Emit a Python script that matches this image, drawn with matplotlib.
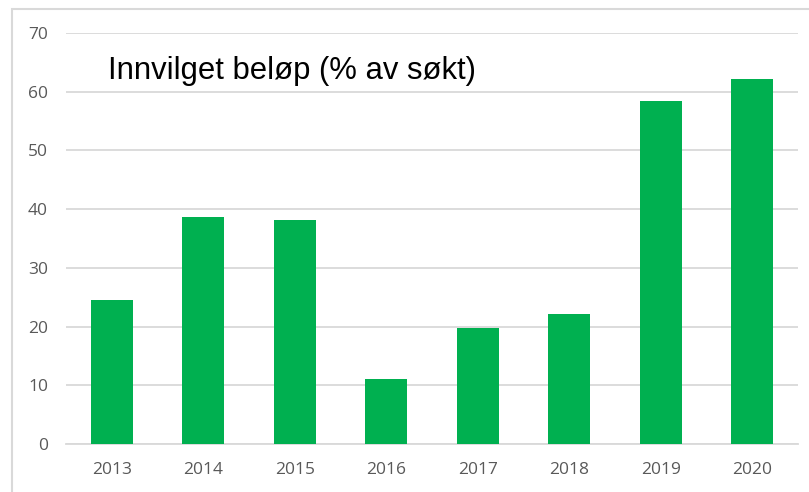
import matplotlib
matplotlib.use("Agg")
import matplotlib.pyplot as plt
from matplotlib.patches import Rectangle

years = ["2013", "2014", "2015", "2016", "2017", "2018", "2019", "2020"]
values = [24.5, 38.7, 38.2, 11.1, 19.8, 22.1, 58.4, 62.2]
yticks = [0, 10, 20, 30, 40, 50, 60, 70]
title = "Innvilget beløp (% av søkt)"

W, H = 809, 492
fig = plt.figure(figsize=(W / 100, H / 100), dpi=100)
fig.patch.set_facecolor("white")

# outer chart border
fig.patches.append(Rectangle((12 / W, -0.05), 1.1, (H - 9) / H + 0.05,
                             transform=fig.transFigure, fill=False,
                             edgecolor="#d9d9d9", linewidth=1.5, zorder=0))

left, right, top, bottom = 66, 798, 33, 444
ax = fig.add_axes([left / W, 1 - bottom / H, (right - left) / W, (bottom - top) / H])
x = list(range(len(years)))
ax.bar(x, values, width=0.46, color="#00B050", zorder=3)
ax.set_xlim(-0.5, len(years) - 0.5)
ax.set_ylim(0, 70)
ax.set_yticks(yticks)
ax.set_xticks(x)
ax.set_xticklabels(years)
ax.grid(axis="y", color="#d9d9d9", linewidth=1.3, zorder=0)
for s in ["top", "right", "left"]:
    ax.spines[s].set_visible(False)
ax.spines["bottom"].set_color("#d9d9d9")
ax.spines["bottom"].set_linewidth(1.3)
ax.tick_params(axis="both", length=0, colors="#595959", labelsize=12.5)
ax.tick_params(axis="y", pad=13)
ax.tick_params(axis="x", pad=13)
for lbl in ax.get_xticklabels() + ax.get_yticklabels():
    lbl.set_fontfamily("Open Sans")

fig.text(108 / W, 1 - 79 / H, title, fontsize=22.3, family="Liberation Sans",
         color="black", ha="left", va="baseline")

fig.savefig("out.png", dpi=100)
